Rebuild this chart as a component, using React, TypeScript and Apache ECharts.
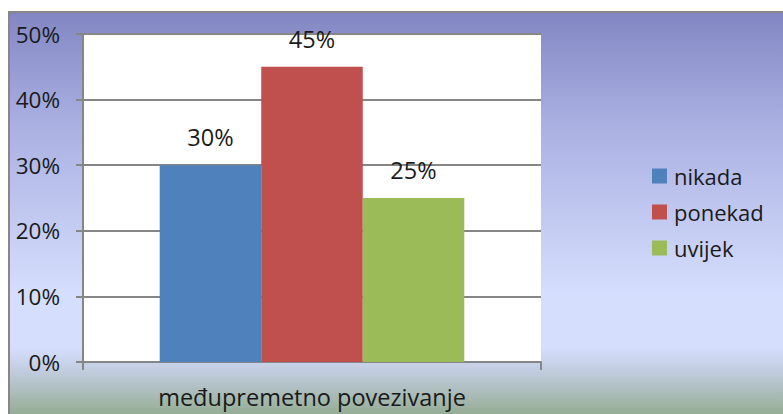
import React, { useEffect, useRef } from "react";
import * as echarts from "echarts";

const categories = ["međupremetno povezivanje"];
const seriesNames = ["nikada", "ponekad", "uvijek"];
const seriesValues = [[30], [45], [25]];
const seriesColors = ["#4F81BD", "#C0504D", "#9BBB59"];
const yTicks = { min: 0, max: 50, interval: 10 };

const FONT = "'Open Sans', sans-serif";

export default function App() {
  const ref = useRef<HTMLDivElement>(null);
  useEffect(() => {
    const chart = echarts.init(ref.current!, null, { renderer: "svg" });
    chart.setOption({
      animation: false,
      backgroundColor: new echarts.graphic.LinearGradient(0, 0, 0, 1, [
        { offset: 0, color: "#8287C3" },
        { offset: 0.27, color: "#A9AFE1" },
        { offset: 0.7, color: "#D5DEFD" },
        { offset: 0.835, color: "#D5DEFD" },
        { offset: 0.89, color: "#C2CDE0" },
        { offset: 1, color: "#96AD96" },
      ]),
      textStyle: { fontFamily: FONT },
      grid: {
        left: 73,
        top: 21,
        right: 242,
        bottom: 52,
        show: true,
        backgroundColor: "#FFFFFF",
        borderWidth: 0,
      },
      legend: {
        orient: "vertical",
        left: 637,
        top: 142,
        itemWidth: 15,
        itemHeight: 15,
        itemGap: 4,
        icon: "rect",
        textStyle: {
          fontFamily: FONT,
          fontSize: 22,
          lineHeight: 32,
          color: "#1a1a1a",
          padding: [0, 0, 0, 2],
        },
        data: seriesNames,
      },
      xAxis: {
        type: "category",
        data: categories,
        axisLine: { lineStyle: { color: "#868686", width: 2 } },
        axisTick: { show: true, length: 8, lineStyle: { color: "#868686", width: 2 } },
        axisLabel: { fontFamily: FONT, fontSize: 23.5, color: "#1a1a1a", margin: 23 },
      },
      yAxis: {
        type: "value",
        min: yTicks.min,
        max: yTicks.max,
        interval: yTicks.interval,
        axisLine: { show: true, lineStyle: { color: "#868686", width: 2 } },
        axisTick: { show: true, length: 7, lineStyle: { color: "#868686", width: 2 } },
        axisLabel: {
          fontFamily: FONT,
          fontSize: 22.5,
          color: "#1a1a1a",
          margin: 23,
          formatter: (v: number) => v + "%",
        },
        splitLine: { show: true, lineStyle: { color: "#868686", width: 2 } },
      },
      series: seriesNames.map((name, i) => ({
        name,
        type: "bar",
        data: seriesValues[i],
        barGap: "0%",
        barCategoryGap: "33.5%",
        itemStyle: { color: seriesColors[i] },
        label: {
          show: true,
          position: "top",
          distance: 16,
          fontFamily: FONT,
          fontSize: 23.5,
          color: "#1a1a1a",
          formatter: (p: any) => p.value + "%",
        },
      })),
    });
    return () => chart.dispose();
  }, []);
  return (
    <div
      style={{
        position: "absolute",
        left: 8,
        top: 11,
        width: 775,
        height: 403,
        borderTop: "2px solid #878787",
        borderLeft: "2px solid #878787",
        overflow: "hidden",
      }}
    >
      <div ref={ref} style={{ width: 773, height: 401 }} />
    </div>
  );
}
